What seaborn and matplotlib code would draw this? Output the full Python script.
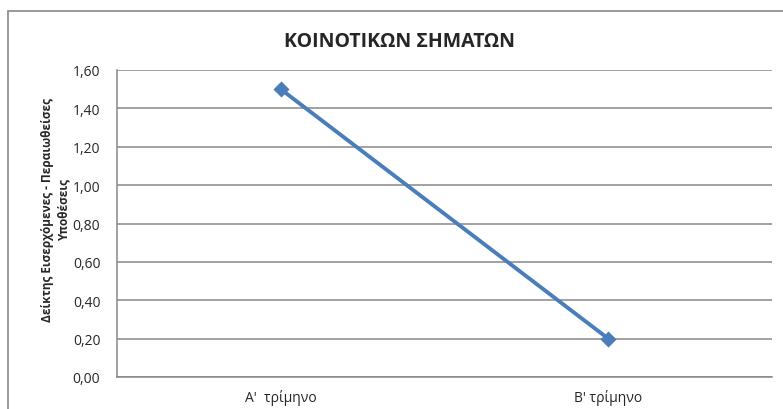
import matplotlib
matplotlib.use('Agg')
import matplotlib.pyplot as plt
import seaborn as sns
import pandas as pd
from matplotlib.patches import Rectangle

quarters = ["Α'  τρίμηνο", "Β' τρίμηνο"]
index_values = [1.50, 0.20]
y_ticks = [0.0, 0.2, 0.4, 0.6, 0.8, 1.0, 1.2, 1.4, 1.6]

sns.set_style('white')
plt.rcParams['font.family'] = ['Open Sans', 'DejaVu Sans']

df = pd.DataFrame({'quarter': quarters, 'value': index_values})

fig = plt.figure(figsize=(7.83, 4.10), dpi=100)
ax = fig.add_axes([117/783, 1 - 378/410, (772-117)/783, (378-71)/410])

# outer chart frame (runs off the right/bottom edges)
fig.patches.append(Rectangle((8/783, -0.1), 1.2, 1 - 12/410 + 0.1,
                             transform=fig.transFigure, fill=False,
                             edgecolor='#878787', linewidth=1.2))

sns.pointplot(data=df, x='quarter', y='value', color='#4A7EBB',
              markers='D', markersize=6.5, linewidth=2.8, ax=ax)

ax.set_xlim(-0.5, 1.5)
ax.set_ylim(0, 1.6)
ax.set_yticks(y_ticks)
ax.set_yticklabels([f'{v:.2f}'.replace('.', ',') for v in y_ticks], fontsize=10)
ax.tick_params(axis='y', direction='out', length=5, color='#878787', pad=7)
ax.tick_params(axis='x', length=0, pad=9, labelsize=10)
ax.yaxis.grid(True, color='#878787', linewidth=1.1)
ax.set_axisbelow(True)
for side in ['top', 'right']:
    ax.spines[side].set_visible(False)
for side in ['left', 'bottom']:
    ax.spines[side].set_color('#878787')
    ax.spines[side].set_linewidth(1.1)

ax.set_xlabel('')
ax.set_ylabel('')
fig.text(56/783, 1 - 210/410, "Δείκτης Εισερχόμενες - Περαιωθείσες\nΥποθέσεις",
         rotation=90, ha='center', va='center', multialignment='center',
         fontsize=8.5, fontweight='bold', linespacing=1.35)

fig.text(400/783, 1 - 42/410, 'ΚΟΙΝΟΤΙΚΩΝ ΣΗΜΑΤΩΝ', ha='center', va='center',
         fontsize=14, fontweight='bold')

fig.savefig('out.png', dpi=100)
